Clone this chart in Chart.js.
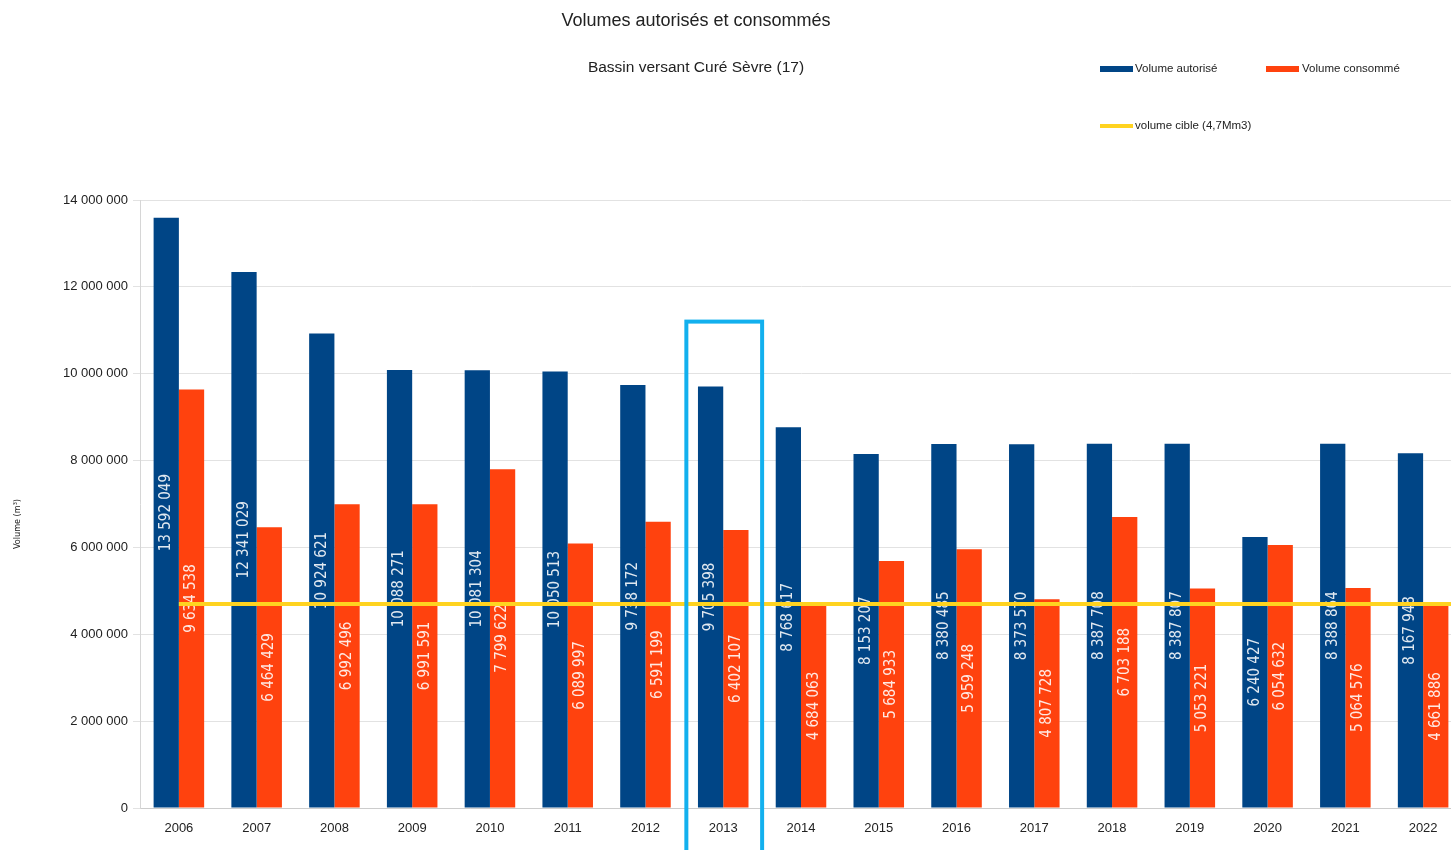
<!DOCTYPE html>
<html>
<head>
<meta charset="utf-8">
<script src="https://cdn.jsdelivr.net/npm/chart.js@4.4.0/dist/chart.umd.min.js"></script>
<style>
  html, body { margin: 0; padding: 0; background: #fff; overflow: hidden; }
  #wrap { width: 1470px; height: 850px; }
</style>
</head>
<body>
<div id="wrap"><canvas id="myChart" width="1470" height="850"></canvas></div>
<script>
var years = ['2006', '2007', '2008', '2009', '2010', '2011', '2012', '2013', '2014',
  '2015', '2016', '2017', '2018', '2019', '2020', '2021', '2022'];
var volumeAutorise = [13592049, 12341029, 10924621, 10088271, 10081304, 10050513, 9738172,
  9705398, 8768617, 8153207, 8380485, 8373570, 8387708, 8387807, 6240427, 8388864, 8167948];
var volumeConsomme = [9634538, 6464429, 6992496, 6991591, 7799622, 6089997, 6591199,
  6402107, 4684063, 5684933, 5959248, 4807728, 6703188, 5053221, 6054632, 5064576, 4661886];
var volumeCible = 4700000;
var yTicks = [0, 2000000, 4000000, 6000000, 8000000, 10000000, 12000000, 14000000];
var highlightYear = '2013';
var highlightTop = 11200000;

function fmt(n) {
  return String(n).replace(/\B(?=(\d{3})+(?!\d))/g, ' ');
}

// labels in the bars, drawn right after each bar dataset
var barLabels = {
  id: 'barLabels',
  afterDatasetDraw: function(chart, args) {
    var ds = chart.data.datasets[args.index];
    var ctx = chart.ctx;
    ctx.save();
    ctx.font = '15px "DejaVu Sans Condensed", "DejaVu Sans"';
    ctx.fillStyle = 'rgba(255,255,255,0.88)';
    ctx.textAlign = 'center';
    ctx.textBaseline = 'middle';
    args.meta.data.forEach(function(bar, i) {
      ctx.save();
      ctx.translate(bar.x, (bar.y + bar.base) / 2);
      ctx.rotate(-Math.PI / 2);
      ctx.fillText(fmt(ds.data[i]), 0, 0);
      ctx.restore();
    });
    ctx.restore();
  },
  afterDatasetsDraw: function(chart) {
    // target line
    var ctx = chart.ctx, x = chart.scales.x, y = chart.scales.y;
    var py = y.getPixelForValue(volumeCible);
    ctx.save();
    ctx.strokeStyle = '#ffd320';
    ctx.lineWidth = 4;
    ctx.beginPath();
    ctx.moveTo(x.getPixelForValue(0), py);
    ctx.lineTo(chart.chartArea.right, py);
    ctx.stroke();
    ctx.restore();
  },
  afterDraw: function(chart) {
    var ctx = chart.ctx, x = chart.scales.x, y = chart.scales.y;
    var idx = years.indexOf(highlightYear);
    var half = (x.getPixelForValue(1) - x.getPixelForValue(0)) / 2;
    var cx = x.getPixelForValue(idx);
    var top = y.getPixelForValue(highlightTop);
    ctx.save();
    ctx.strokeStyle = '#12b0ee';
    ctx.lineWidth = 4;
    ctx.strokeRect(cx - half + 2, top, half * 2 - 2, chart.height + 20 - top);

    // titles
    ctx.fillStyle = '#222';
    ctx.textAlign = 'center';
    ctx.textBaseline = 'middle';
    ctx.font = '18px "Liberation Sans", Arial';
    ctx.fillText('Volumes autorisés et consommés', 696, 21);
    ctx.font = '15.5px "Liberation Sans", Arial';
    ctx.fillText('Bassin versant Curé Sèvre (17)', 696, 68);

    // legend
    ctx.textAlign = 'left';
    ctx.font = '11.5px "Liberation Sans", Arial';
    ctx.fillStyle = '#004586';
    ctx.fillRect(1100, 66, 33, 6);
    ctx.fillStyle = '#ff420e';
    ctx.fillRect(1266, 66, 33, 6);
    ctx.fillStyle = '#ffd320';
    ctx.fillRect(1100, 124, 33, 4);
    ctx.fillStyle = '#222';
    ctx.fillText('Volume autorisé', 1135, 69);
    ctx.fillText('Volume consommé', 1302, 69);
    ctx.fillText('volume cible (4,7Mm3)', 1135, 126);

    // axis title
    ctx.save();
    ctx.translate(18, 524);
    ctx.rotate(-Math.PI / 2);
    ctx.textAlign = 'center';
    ctx.font = '9px "DejaVu Sans Condensed", "DejaVu Sans"';
    ctx.fillText('Volume (m³)', 0, 0);
    ctx.restore();
    ctx.restore();
  }
};

var ctx = document.getElementById('myChart').getContext('2d');
var chart = new Chart(ctx, {
  type: 'bar',
  data: {
    labels: years,
    datasets: [{
      label: 'Volume autorisé',
      backgroundColor: '#004586',
      data: volumeAutorise
    }, {
      label: 'Volume consommé',
      backgroundColor: '#ff420e',
      data: volumeConsomme
    }]
  },
  options: {
    responsive: false,
    animation: false,
    layout: { padding: { top: 200, left: 0, right: 8, bottom: 0 } },
    datasets: { bar: { categoryPercentage: 0.65, barPercentage: 1.0 } },
    plugins: { legend: { display: false }, tooltip: { enabled: false } },
    scales: {
      x: {
        grid: { display: false },
        border: { display: true, color: '#cccccc' },
        ticks: { color: '#222', font: { family: 'Liberation Sans', size: 13 }, padding: 5 },
        afterFit: function(s) { s.height = 42; }
      },
      y: {
        min: 0,
        max: 14000000,
        afterBuildTicks: function(s) { s.ticks = yTicks.map(function(v) { return { value: v }; }); },
        grid: { color: '#e2e2e2', tickLength: 7 },
        border: { display: true, color: '#d6d6d6' },
        ticks: {
          color: '#222',
          font: { family: 'Liberation Sans', size: 13 },
          padding: 5,
          callback: function(v) { return fmt(v); }
        },
        afterFit: function(s) { s.width = 140; }
      }
    }
  },
  plugins: [barLabels]
});
</script>
</body>
</html>
